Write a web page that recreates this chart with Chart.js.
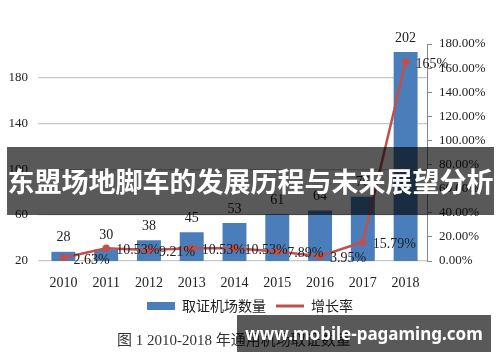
<!DOCTYPE html>
<html>
<head>
<meta charset="utf-8">
<script src="https://cdn.jsdelivr.net/npm/chart.js@4.4.0/dist/chart.umd.min.js"></script>
<style>
body { margin: 0; background: #fff; }
#wrap { position: relative; width: 500px; height: 362px; overflow: hidden; }
#banner { position: absolute; left: 7px; top: 147px; width: 487px; height: 68px; background: rgba(0,0,0,0.65); color: #fff; font: bold 27px "Noto Sans CJK SC"; line-height: 68px; text-align: center; white-space: nowrap; }
#caption { position: absolute; left: 117px; top: 328px; font: 15px "Liberation Serif", "Noto Sans CJK SC"; color: #333; white-space: nowrap; }
#mark { position: absolute; left: 237px; top: 315px; width: 254px; height: 37px; background: rgba(0,0,0,0.65); color: #fff; font: bold 17px "Noto Sans"; line-height: 37px; text-align: center; }
</style>
</head>
<body>
<div id="wrap">
  <canvas id="chart" width="500" height="362"></canvas>
  <div id="caption">图 1 2010-2018 年通用机场取证数量</div>
  <div id="banner">东盟场地脚车的发展历程与未来展望分析</div>
  <div id="mark">www.mobile-pagaming.com</div>
</div>
<script>
const years = ['2010', '2011', '2012', '2013', '2014', '2015', '2016', '2017', '2018'];
const airportCounts = [28, 30, 38, 45, 53, 61, 64, 76, 202];
const growthRates = [2.63, 10.53, 9.21, 10.53, 10.53, 7.89, 3.95, 15.79, 165];
const growthLabels = ['2.63%', '10.53%', '9.21%', '10.53%', '10.53%', '7.89%', '3.95%', '15.79%', '165%'];
const countTicks = [20, 60, 100, 140, 180];

const serif = 'Liberation Serif';

// value labels above bars and beside the line points
const valueLabels = {
    id: 'valueLabels',
    afterDatasetsDraw(chart) {
        const ctx = chart.ctx;
        ctx.save();
        ctx.font = '14px "' + serif + '"';
        ctx.fillStyle = '#222';
        ctx.textBaseline = 'middle';

        ctx.textAlign = 'center';
        chart.getDatasetMeta(0).data.forEach((bar, i) => {
            ctx.fillText(airportCounts[i], bar.x, bar.y - 14);
        });

        ctx.textAlign = 'left';
        chart.getDatasetMeta(1).data.forEach((pt, i) => {
            ctx.fillText(growthLabels[i], pt.x + 10, pt.y + 2);
        });
        ctx.restore();
    }
};

const chart = new Chart(document.getElementById('chart').getContext('2d'), {
    data: {
        labels: years,
        datasets: [{
            type: 'bar',
            label: '取证机场数量',
            data: airportCounts,
            backgroundColor: '#4a7ebb',
            yAxisID: 'y',
            categoryPercentage: 1,
            barPercentage: 0.56,
            order: 2
        }, {
            type: 'line',
            label: '增长率',
            data: growthRates,
            borderColor: '#c0504d',
            backgroundColor: '#c0504d',
            borderWidth: 2.5,
            pointRadius: 2.5,
            pointBackgroundColor: '#c0504d',
            tension: 0,
            yAxisID: 'y1',
            order: 1
        }]
    },
    options: {
        responsive: false,
        animation: false,
        layout: {
            padding: { top: 44, bottom: 39, left: 0, right: 0 }
        },
        scales: {
            x: {
                grid: { display: false },
                border: { display: false },
                ticks: {
                    font: { family: serif, size: 14 },
                    color: '#222',
                    padding: 6
                },
                afterFit: (s) => { s.height = 28; }
            },
            y: {
                position: 'left',
                min: 20,
                max: 209,
                afterBuildTicks: (s) => {
                    s.ticks = countTicks.map(v => ({ value: v }));
                },
                grid: { color: '#c8c8c8', tickLength: 4, lineWidth: 1.2 },
                border: { display: false },
                ticks: {
                    font: { family: serif, size: 13 },
                    color: '#222',
                    padding: 10
                },
                afterFit: (s) => { s.width = 42; }
            },
            y1: {
                position: 'right',
                min: 0,
                max: 180,
                grid: { drawOnChartArea: false, color: '#888', tickLength: 5 },
                border: { display: true, color: '#888' },
                ticks: {
                    stepSize: 20,
                    font: { family: serif, size: 13 },
                    color: '#222',
                    padding: 7,
                    callback: (v) => v.toFixed(2) + '%'
                },
                afterFit: (s) => { s.width = 73; }
            }
        },
        plugins: {
            tooltip: { enabled: false },
            legend: {
                position: 'bottom',
                labels: {
                    usePointStyle: true,
                    pointStyleWidth: 28,
                    boxHeight: 8,
                    padding: 10,
                    color: '#222',
                    font: { family: 'Noto Sans CJK SC', size: 14 },
                    generateLabels: (c) => {
                        const items = Chart.defaults.plugins.legend.labels.generateLabels(c);
                        items.sort((a, b) => a.datasetIndex - b.datasetIndex);
                        items.forEach((it) => {
                            if (it.datasetIndex === 0) {
                                it.pointStyle = 'rect';
                                it.lineWidth = 0;
                            } else {
                                it.pointStyle = 'line';
                                it.lineWidth = 3;
                            }
                        });
                        return items;
                    }
                }
            }
        }
    },
    plugins: [valueLabels]
});
</script>
</body>
</html>
